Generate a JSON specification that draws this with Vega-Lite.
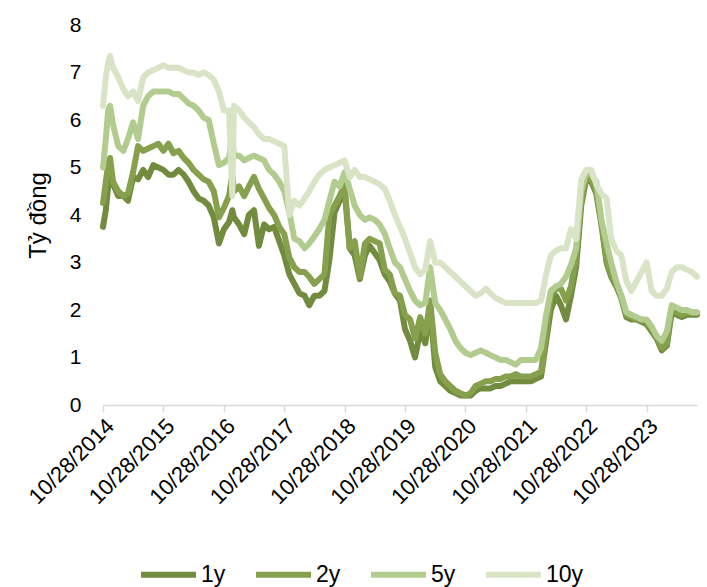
{
  "$schema": "https://vega.github.io/schema/vega-lite/v6.json",
  "autosize": {"type": "none"},
  "padding": {"left": 103, "top": 25, "right": 10, "bottom": 182},
  "width": 594,
  "height": 380,
  "config": {
    "font": "Liberation Sans",
    "view": {"stroke": null}
  },
  "data": {
    "values": [
      {"d": "2014-10-28", "1y": 3.75, "2y": 4.25, "5y": 5.0, "10y": 6.3},
      {"d": "2014-11-14", "1y": 4.1, "2y": 4.7, "5y": 5.6, "10y": 6.9},
      {"d": "2014-11-28", "1y": 4.6, "2y": 5.05, "5y": 6.2, "10y": 7.2},
      {"d": "2014-12-10", "1y": 5.0, "2y": 5.2, "5y": 6.3, "10y": 7.35},
      {"d": "2014-12-28", "1y": 4.65, "2y": 4.7, "5y": 5.9, "10y": 7.1},
      {"d": "2015-01-28", "1y": 4.4, "2y": 4.5, "5y": 5.45, "10y": 6.9},
      {"d": "2015-02-28", "1y": 4.4, "2y": 4.4, "5y": 5.35, "10y": 6.65},
      {"d": "2015-03-28", "1y": 4.3, "2y": 4.45, "5y": 5.6, "10y": 6.5},
      {"d": "2015-04-28", "1y": 4.8, "2y": 4.9, "5y": 5.95, "10y": 6.6},
      {"d": "2015-05-28", "1y": 4.75, "2y": 5.45, "5y": 5.6, "10y": 6.4},
      {"d": "2015-06-28", "1y": 4.95, "2y": 5.35, "5y": 6.3, "10y": 6.9},
      {"d": "2015-07-28", "1y": 4.8, "2y": 5.4, "5y": 6.5, "10y": 7.0},
      {"d": "2015-08-28", "1y": 5.05, "2y": 5.45, "5y": 6.6, "10y": 7.05},
      {"d": "2015-09-28", "1y": 5.0, "2y": 5.5, "5y": 6.6, "10y": 7.1},
      {"d": "2015-10-28", "1y": 4.95, "2y": 5.35, "5y": 6.6, "10y": 7.15},
      {"d": "2015-11-28", "1y": 4.85, "2y": 5.5, "5y": 6.6, "10y": 7.1},
      {"d": "2015-12-28", "1y": 4.85, "2y": 5.3, "5y": 6.55, "10y": 7.1},
      {"d": "2016-01-28", "1y": 4.95, "2y": 5.35, "5y": 6.55, "10y": 7.1},
      {"d": "2016-02-28", "1y": 4.85, "2y": 5.2, "5y": 6.45, "10y": 7.05},
      {"d": "2016-03-28", "1y": 4.7, "2y": 5.1, "5y": 6.35, "10y": 7.0},
      {"d": "2016-04-28", "1y": 4.5, "2y": 4.95, "5y": 6.3, "10y": 7.0},
      {"d": "2016-05-28", "1y": 4.35, "2y": 4.85, "5y": 6.2, "10y": 6.95},
      {"d": "2016-06-28", "1y": 4.3, "2y": 4.75, "5y": 6.05, "10y": 7.0},
      {"d": "2016-07-28", "1y": 4.2, "2y": 4.7, "5y": 6.0, "10y": 6.95},
      {"d": "2016-08-28", "1y": 3.95, "2y": 4.5, "5y": 5.5, "10y": 6.85},
      {"d": "2016-09-28", "1y": 3.4, "2y": 3.95, "5y": 5.05, "10y": 6.6},
      {"d": "2016-10-28", "1y": 3.7, "2y": 4.15, "5y": 5.1, "10y": 6.2},
      {"d": "2016-11-28", "1y": 3.85, "2y": 4.4, "5y": 5.2, "10y": 6.2},
      {"d": "2016-12-18", "1y": 4.1, "2y": 4.85, "5y": 5.65, "10y": 4.4},
      {"d": "2016-12-28", "1y": 3.95, "2y": 4.5, "5y": 5.25, "10y": 6.3},
      {"d": "2017-01-28", "1y": 3.8, "2y": 4.6, "5y": 5.25, "10y": 6.2},
      {"d": "2017-02-28", "1y": 3.6, "2y": 4.4, "5y": 5.15, "10y": 6.05},
      {"d": "2017-03-28", "1y": 4.0, "2y": 4.6, "5y": 5.2, "10y": 5.95},
      {"d": "2017-04-28", "1y": 4.1, "2y": 4.8, "5y": 5.25, "10y": 5.85},
      {"d": "2017-05-28", "1y": 3.35, "2y": 4.55, "5y": 5.2, "10y": 5.7},
      {"d": "2017-06-28", "1y": 3.8, "2y": 4.35, "5y": 5.15, "10y": 5.6},
      {"d": "2017-07-28", "1y": 3.7, "2y": 4.15, "5y": 4.95, "10y": 5.6},
      {"d": "2017-08-28", "1y": 3.75, "2y": 4.0, "5y": 4.85, "10y": 5.55},
      {"d": "2017-09-28", "1y": 3.45, "2y": 3.75, "5y": 4.7, "10y": 5.5},
      {"d": "2017-10-28", "1y": 3.15, "2y": 3.6, "5y": 4.5, "10y": 5.45},
      {"d": "2017-11-28", "1y": 2.75, "2y": 3.1, "5y": 4.05, "10y": 4.0},
      {"d": "2017-12-28", "1y": 2.55, "2y": 2.9, "5y": 3.5, "10y": 4.3},
      {"d": "2018-01-28", "1y": 2.35, "2y": 2.8, "5y": 3.45, "10y": 4.2},
      {"d": "2018-02-28", "1y": 2.3, "2y": 2.8, "5y": 3.3, "10y": 4.35},
      {"d": "2018-03-28", "1y": 2.1, "2y": 2.7, "5y": 3.4, "10y": 4.5},
      {"d": "2018-04-28", "1y": 2.3, "2y": 2.55, "5y": 3.55, "10y": 4.7},
      {"d": "2018-05-28", "1y": 2.3, "2y": 2.65, "5y": 3.7, "10y": 4.85},
      {"d": "2018-06-28", "1y": 2.4, "2y": 2.75, "5y": 3.9, "10y": 4.95},
      {"d": "2018-07-28", "1y": 3.05, "2y": 4.0, "5y": 4.3, "10y": 5.0},
      {"d": "2018-08-28", "1y": 4.05, "2y": 4.2, "5y": 4.7, "10y": 5.05},
      {"d": "2018-09-28", "1y": 4.3, "2y": 4.4, "5y": 4.6, "10y": 5.1},
      {"d": "2018-10-28", "1y": 4.5, "2y": 4.65, "5y": 4.9, "10y": 5.15},
      {"d": "2018-11-28", "1y": 3.3, "2y": 3.3, "5y": 4.55, "10y": 4.8},
      {"d": "2018-12-28", "1y": 3.15, "2y": 3.45, "5y": 4.2, "10y": 4.95},
      {"d": "2019-01-28", "1y": 2.65, "2y": 2.7, "5y": 4.0, "10y": 4.8},
      {"d": "2019-02-28", "1y": 3.15, "2y": 3.4, "5y": 3.9, "10y": 4.8},
      {"d": "2019-03-28", "1y": 3.35, "2y": 3.5, "5y": 3.95, "10y": 4.75},
      {"d": "2019-04-28", "1y": 3.2, "2y": 3.45, "5y": 3.9, "10y": 4.7},
      {"d": "2019-05-28", "1y": 3.05, "2y": 3.4, "5y": 3.8, "10y": 4.65},
      {"d": "2019-06-28", "1y": 2.75, "2y": 2.85, "5y": 3.6, "10y": 4.55},
      {"d": "2019-07-28", "1y": 2.6, "2y": 2.75, "5y": 3.3, "10y": 4.3},
      {"d": "2019-08-28", "1y": 2.35, "2y": 2.35, "5y": 3.0, "10y": 4.0},
      {"d": "2019-09-28", "1y": 2.2, "2y": 2.3, "5y": 2.9, "10y": 3.75},
      {"d": "2019-10-28", "1y": 1.6, "2y": 1.9, "5y": 2.65, "10y": 3.5},
      {"d": "2019-11-28", "1y": 1.35, "2y": 1.8, "5y": 2.4, "10y": 3.2},
      {"d": "2019-12-28", "1y": 1.0, "2y": 1.4, "5y": 2.2, "10y": 2.9},
      {"d": "2020-01-28", "1y": 1.55, "2y": 1.85, "5y": 2.1, "10y": 2.75},
      {"d": "2020-02-28", "1y": 1.3, "2y": 1.5, "5y": 2.15, "10y": 2.85},
      {"d": "2020-03-28", "1y": 2.1, "2y": 2.2, "5y": 2.9, "10y": 3.45},
      {"d": "2020-04-28", "1y": 0.8, "2y": 1.1, "5y": 2.15, "10y": 3.0},
      {"d": "2020-05-28", "1y": 0.5, "2y": 0.65, "5y": 2.0, "10y": 3.0},
      {"d": "2020-06-28", "1y": 0.4, "2y": 0.5, "5y": 1.8, "10y": 2.9},
      {"d": "2020-07-28", "1y": 0.3, "2y": 0.4, "5y": 1.6, "10y": 2.8},
      {"d": "2020-08-28", "1y": 0.25, "2y": 0.3, "5y": 1.35, "10y": 2.7},
      {"d": "2020-09-28", "1y": 0.2, "2y": 0.25, "5y": 1.2, "10y": 2.6},
      {"d": "2020-10-28", "1y": 0.2, "2y": 0.2, "5y": 1.1, "10y": 2.5},
      {"d": "2020-11-28", "1y": 0.2, "2y": 0.25, "5y": 1.05, "10y": 2.4},
      {"d": "2020-12-28", "1y": 0.3, "2y": 0.4, "5y": 1.1, "10y": 2.3},
      {"d": "2021-01-28", "1y": 0.35, "2y": 0.45, "5y": 1.15, "10y": 2.35},
      {"d": "2021-02-28", "1y": 0.35, "2y": 0.5, "5y": 1.1, "10y": 2.45},
      {"d": "2021-03-28", "1y": 0.35, "2y": 0.5, "5y": 1.05, "10y": 2.35},
      {"d": "2021-04-28", "1y": 0.4, "2y": 0.55, "5y": 1.0, "10y": 2.25},
      {"d": "2021-05-28", "1y": 0.4, "2y": 0.55, "5y": 0.95, "10y": 2.2},
      {"d": "2021-06-28", "1y": 0.45, "2y": 0.6, "5y": 0.95, "10y": 2.15},
      {"d": "2021-07-28", "1y": 0.5, "2y": 0.6, "5y": 0.9, "10y": 2.15},
      {"d": "2021-08-28", "1y": 0.5, "2y": 0.65, "5y": 0.85, "10y": 2.15},
      {"d": "2021-09-28", "1y": 0.5, "2y": 0.6, "5y": 0.95, "10y": 2.15},
      {"d": "2021-10-28", "1y": 0.5, "2y": 0.6, "5y": 0.95, "10y": 2.15},
      {"d": "2021-11-28", "1y": 0.5, "2y": 0.6, "5y": 0.95, "10y": 2.15},
      {"d": "2021-12-28", "1y": 0.55, "2y": 0.65, "5y": 0.95, "10y": 2.15},
      {"d": "2022-01-28", "1y": 0.6, "2y": 0.7, "5y": 1.2, "10y": 2.2},
      {"d": "2022-02-28", "1y": 1.35, "2y": 1.5, "5y": 1.9, "10y": 2.75},
      {"d": "2022-03-28", "1y": 2.0, "2y": 2.3, "5y": 2.4, "10y": 3.15},
      {"d": "2022-04-28", "1y": 2.3, "2y": 2.45, "5y": 2.5, "10y": 3.25},
      {"d": "2022-05-28", "1y": 2.1, "2y": 2.45, "5y": 2.55, "10y": 3.3},
      {"d": "2022-06-28", "1y": 1.8, "2y": 2.2, "5y": 2.7, "10y": 3.3},
      {"d": "2022-07-28", "1y": 2.3, "2y": 2.5, "5y": 2.95, "10y": 3.7},
      {"d": "2022-08-28", "1y": 2.9, "2y": 3.1, "5y": 3.3, "10y": 3.5},
      {"d": "2022-09-28", "1y": 4.2, "2y": 4.3, "5y": 4.5, "10y": 4.75},
      {"d": "2022-10-28", "1y": 4.75, "2y": 4.8, "5y": 4.9, "10y": 4.95},
      {"d": "2022-11-28", "1y": 4.7, "2y": 4.75, "5y": 4.85, "10y": 4.95},
      {"d": "2022-12-28", "1y": 4.45, "2y": 4.5, "5y": 4.7, "10y": 4.65},
      {"d": "2023-01-28", "1y": 3.8, "2y": 3.85, "5y": 3.9, "10y": 4.45},
      {"d": "2023-02-28", "1y": 3.0, "2y": 3.05, "5y": 3.4, "10y": 4.35},
      {"d": "2023-03-28", "1y": 2.7, "2y": 2.75, "5y": 3.0, "10y": 3.5},
      {"d": "2023-04-28", "1y": 2.5, "2y": 2.55, "5y": 2.6, "10y": 3.25},
      {"d": "2023-05-28", "1y": 2.25, "2y": 2.3, "5y": 2.3, "10y": 3.15},
      {"d": "2023-06-28", "1y": 1.85, "2y": 1.9, "5y": 1.95, "10y": 2.6},
      {"d": "2023-07-28", "1y": 1.8, "2y": 1.85, "5y": 1.9, "10y": 2.4},
      {"d": "2023-08-28", "1y": 1.8, "2y": 1.8, "5y": 1.85, "10y": 2.6},
      {"d": "2023-09-28", "1y": 1.75, "2y": 1.8, "5y": 1.8, "10y": 2.8},
      {"d": "2023-10-28", "1y": 1.7, "2y": 1.75, "5y": 1.8, "10y": 3.0},
      {"d": "2023-11-28", "1y": 1.55, "2y": 1.6, "5y": 1.65, "10y": 2.4},
      {"d": "2023-12-28", "1y": 1.4, "2y": 1.45, "5y": 1.45, "10y": 2.3},
      {"d": "2024-01-28", "1y": 1.15, "2y": 1.2, "5y": 1.35, "10y": 2.3},
      {"d": "2024-02-28", "1y": 1.25, "2y": 1.3, "5y": 1.55, "10y": 2.45},
      {"d": "2024-03-28", "1y": 1.95, "2y": 2.05, "5y": 2.1, "10y": 2.8},
      {"d": "2024-04-28", "1y": 1.9, "2y": 1.95, "5y": 2.05, "10y": 2.9},
      {"d": "2024-05-28", "1y": 1.85, "2y": 1.9, "5y": 2.0, "10y": 2.9},
      {"d": "2024-06-28", "1y": 1.9, "2y": 1.95, "5y": 2.0, "10y": 2.85},
      {"d": "2024-07-28", "1y": 1.9, "2y": 1.95, "5y": 1.95, "10y": 2.8},
      {"d": "2024-08-28", "1y": 1.9, "2y": 1.95, "5y": 1.95, "10y": 2.7}
    ]
  },
  "transform": [
    {"fold": ["1y", "2y", "5y", "10y"], "as": ["series", "value"]}
  ],
  "mark": {"type": "line", "strokeWidth": 6, "strokeCap": "round", "strokeJoin": "round"},
  "encoding": {
    "x": {
      "field": "d",
      "type": "temporal",
      "scale": {
        "type": "utc",
        "domain": [
          {"year": 2014, "month": 10, "date": 28, "utc": true},
          {"year": 2024, "month": 8, "date": 28, "utc": true}
        ]
      },
      "axis": {
        "title": null,
        "grid": false,
        "values": [
          {"year": 2014, "month": 10, "date": 28, "utc": true},
          {"year": 2015, "month": 10, "date": 28, "utc": true},
          {"year": 2016, "month": 10, "date": 28, "utc": true},
          {"year": 2017, "month": 10, "date": 28, "utc": true},
          {"year": 2018, "month": 10, "date": 28, "utc": true},
          {"year": 2019, "month": 10, "date": 28, "utc": true},
          {"year": 2020, "month": 10, "date": 28, "utc": true},
          {"year": 2021, "month": 10, "date": 28, "utc": true},
          {"year": 2022, "month": 10, "date": 28, "utc": true},
          {"year": 2023, "month": 10, "date": 28, "utc": true}
        ],
        "format": "%m/%d/%Y",
        "labelAngle": -45,
        "labelFontSize": 22,
        "labelColor": "#000000",
        "labelPadding": 3,
        "labelOverlap": false,
        "labelFlush": false,
        "domainColor": "#d9d9d9",
        "domainWidth": 1.5,
        "tickColor": "#d9d9d9",
        "tickWidth": 1.5,
        "tickSize": 7
      }
    },
    "y": {
      "field": "value",
      "type": "quantitative",
      "scale": {"domain": [0, 8], "nice": false},
      "axis": {
        "title": "Tỷ đồng",
        "titleFontSize": 24,
        "titleFontWeight": "normal",
        "titleColor": "#000000",
        "titlePadding": 19,
        "values": [0, 1, 2, 3, 4, 5, 6, 7, 8],
        "grid": false,
        "domain": false,
        "ticks": false,
        "labelFontSize": 21,
        "labelColor": "#000000",
        "labelPadding": 22
      }
    },
    "color": {
      "field": "series",
      "type": "nominal",
      "scale": {
        "domain": ["1y", "2y", "5y", "10y"],
        "range": ["#718b3f", "#86a04d", "#b2cb8e", "#d9e4c6"]
      },
      "legend": {
        "title": null,
        "orient": "none",
        "direction": "horizontal",
        "legendX": 35,
        "legendY": 519,
        "symbolType": "stroke",
        "symbolSize": 3025,
        "symbolStrokeWidth": 6,
        "labelFontSize": 23,
        "labelColor": "#000000",
        "labelOffset": 2,
        "columnPadding": 18
      }
    }
  }
}
